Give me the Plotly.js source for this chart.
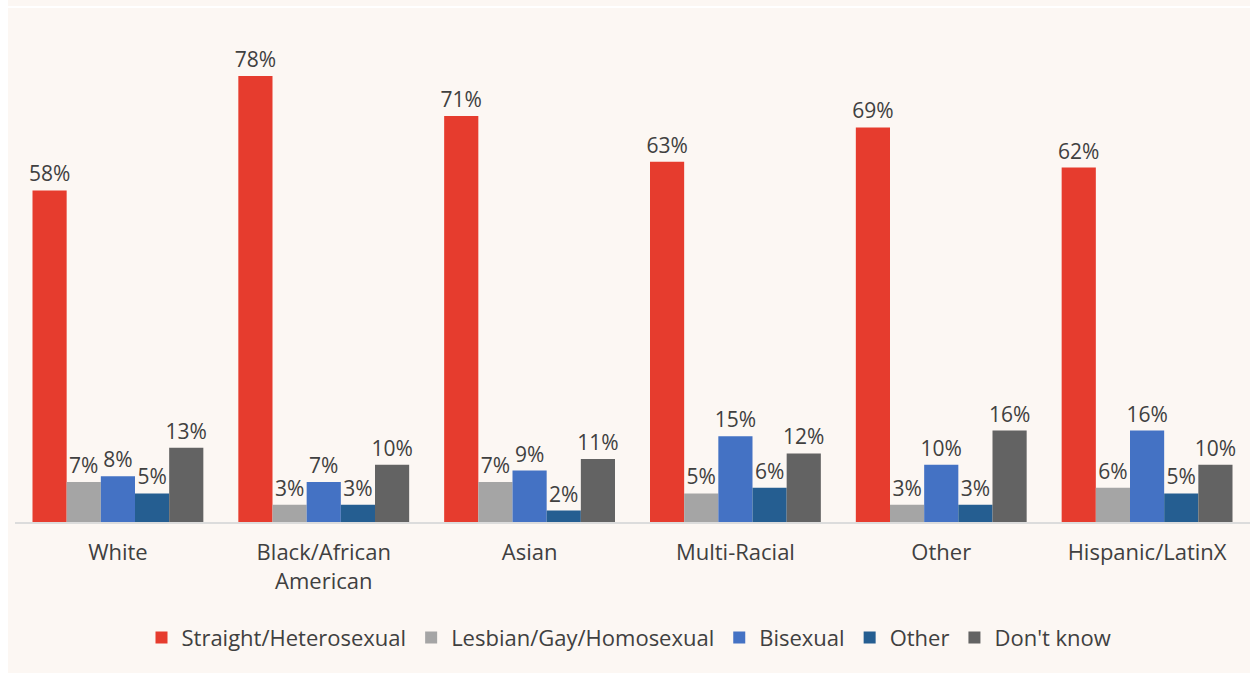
<!DOCTYPE html>
<html>
<head>
<meta charset="utf-8">
<script src="https://cdn.plot.ly/plotly-3.0.1.min.js"></script>
<style>
  html, body { margin: 0; padding: 0; background: #ffffff; width: 1250px; height: 673px; overflow: hidden; }
  #strip { position: absolute; left: 8px; top: 0; width: 1242px; height: 6px; background: #fcf7f3; }
  #chart { position: absolute; left: 8px; top: 8px; width: 1242px; height: 665px; }
</style>
</head>
<body>
<div id="strip"></div>
<div id="chart"></div>
<script>
const categories = ["White", "Black/African<br>American", "Asian", "Multi-Racial", "Other", "Hispanic/LatinX"];
const seriesNames = ["Straight/Heterosexual", "Lesbian/Gay/Homosexual", "Bisexual", "Other", "Don't know"];
const straight = [58, 78, 71, 63, 69, 62];
const lesbianGay = [7, 3, 7, 5, 3, 6];
const bisexual = [8, 7, 9, 15, 10, 16];
const otherOrientation = [5, 3, 2, 6, 3, 5];
const dontKnow = [13, 10, 11, 12, 16, 10];

const seriesValues = [straight, lesbianGay, bisexual, otherOrientation, dontKnow];
const colors = ["#e63c2e", "#a5a5a5", "#4472c4", "#255e91", "#636363"];

const traces = seriesValues.map((vals, i) => ({
  type: "bar",
  name: seriesNames[i],
  x: categories,
  y: vals,
  marker: { color: colors[i], line: { width: 0 } },
  text: vals.map(v => v + "%"),
  textposition: "outside",
  constraintext: "none",
  cliponaxis: false,
  textfont: { family: "Open Sans", size: 21, color: "#404040" },
  hoverinfo: "skip"
}));

const layout = {
  width: 1242,
  height: 665,
  paper_bgcolor: "#fcf7f3",
  plot_bgcolor: "#fcf7f3",
  margin: { l: 7, r: 0, t: 20, b: 151 },
  barmode: "group",
  bargap: 0.17,
  bargroupgap: 0,
  font: { family: "Open Sans", color: "#404040" },
  xaxis: {
    showline: true,
    linecolor: "#dcdcdc",
    linewidth: 2,
    ticks: "",
    ticklabelstandoff: 10,
    tickfont: { family: "Open Sans", size: 22, color: "#404040" },
    showgrid: false,
    fixedrange: true
  },
  yaxis: {
    range: [0, 86.4],
    visible: false,
    showgrid: false,
    zeroline: false,
    fixedrange: true
  },
  showlegend: true,
  legend: {
    orientation: "h",
    xref: "container",
    yref: "container",
    x: 0.5,
    xanchor: "center",
    y: 0.053,
    yanchor: "middle",
    font: { family: "Open Sans", size: 22, color: "#404040" },
    bgcolor: "rgba(0,0,0,0)",
    itemwidth: 30,
    tracegroupgap: 0
  }
};

Plotly.newPlot("chart", traces, layout, { displayModeBar: false, staticPlot: true });
</script>
</body>
</html>
